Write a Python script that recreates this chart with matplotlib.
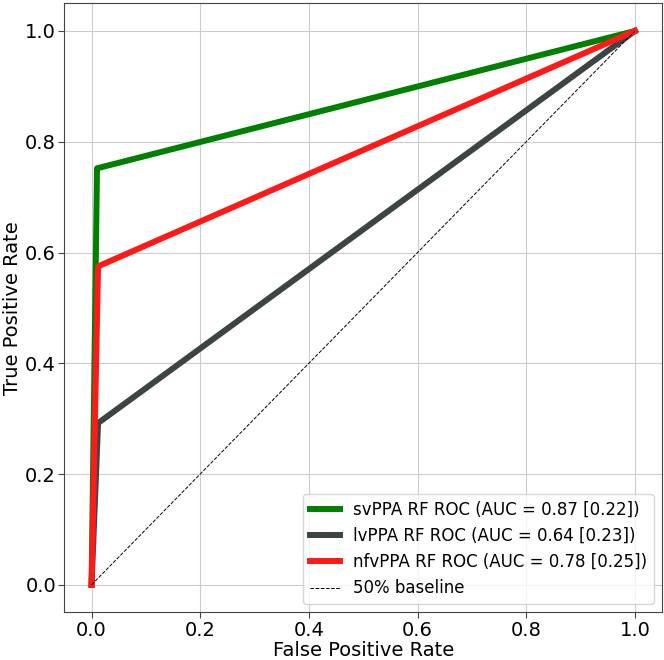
import matplotlib
matplotlib.use("Agg")
import matplotlib.pyplot as plt

# ROC points
sv_fpr = [0.0, 0.01, 1.0]
sv_tpr = [0.0, 0.752, 1.0]
lv_fpr = [0.0, 0.012, 1.0]
lv_tpr = [0.0, 0.292, 1.0]
nfv_fpr = [0.0, 0.012, 1.0]
nfv_tpr = [0.0, 0.575, 1.0]
base = [0.0, 1.0]

labels = ["svPPA RF ROC (AUC = 0.87 [0.22])",
          "lvPPA RF ROC (AUC = 0.64 [0.23])",
          "nfvPPA RF ROC (AUC = 0.78 [0.25])",
          "50% baseline"]

fig = plt.figure(figsize=(6.64, 6.6), dpi=100)
ax = fig.add_axes([0.097, 0.072, 0.9, 0.923])

ax.plot(sv_fpr, sv_tpr, color="green", lw=4.3, label=labels[0])
ax.plot(lv_fpr, lv_tpr, color="#3c4444", lw=4.3, label=labels[1])
ax.plot(nfv_fpr, nfv_tpr, color="#ff1a1a", lw=4.3, label=labels[2])
ax.plot(base, base, color="k", lw=0.7, ls="--", label=labels[3])

ax.grid(True, color="#cccccc", lw=0.8)
for s in ax.spines.values():
    s.set_color("#444444")
ax.set_xlabel("False Positive Rate", fontsize=14, labelpad=1)
ax.set_ylabel("True Positive Rate", fontsize=14, labelpad=2)
ax.tick_params(labelsize=14, length=4, pad=2, color="#444444")
ax.legend(loc="lower right", fontsize=12, handlelength=1.8)

fig.savefig("out.png", dpi=100)
